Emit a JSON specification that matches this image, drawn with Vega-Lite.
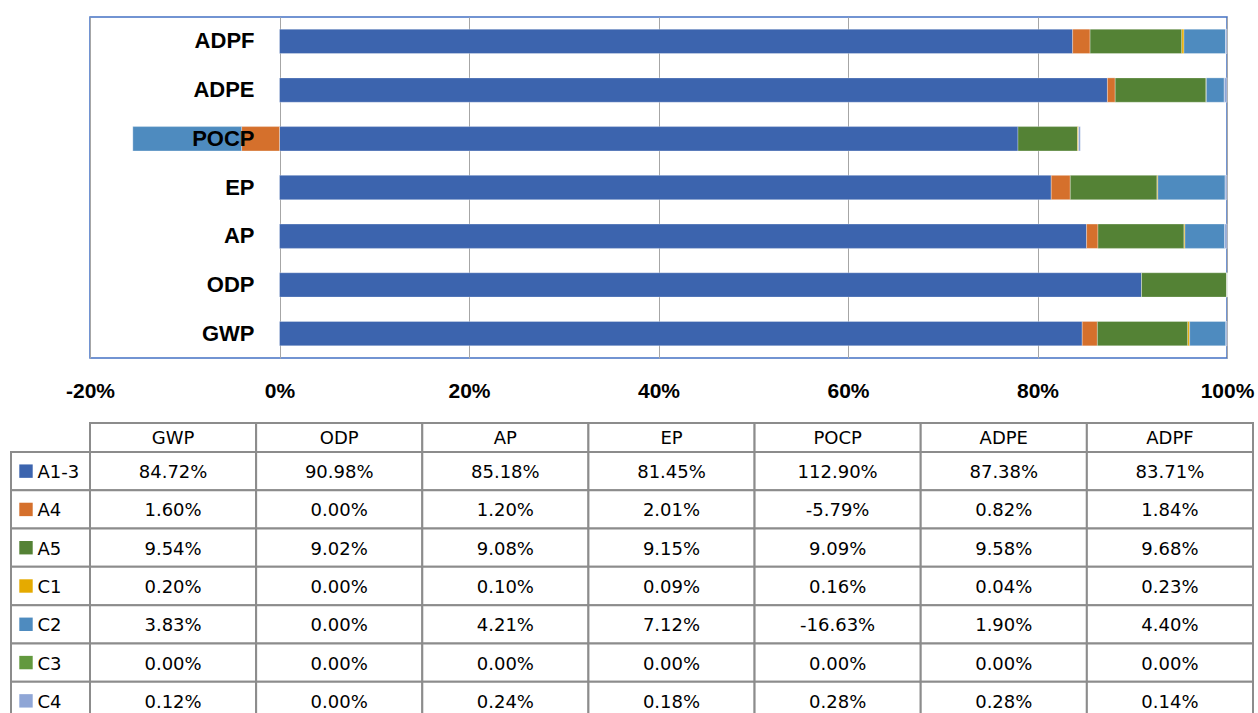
{
  "$schema": "https://vega.github.io/schema/vega-lite/v6.json",
  "padding": {"left": 10, "top": 16, "right": 0, "bottom": 0},
  "background": "white",
  "config": {
    "view": {"stroke": null},
    "locale": {"number": {"decimal": ".", "thousands": ",", "grouping": [3], "currency": ["$", ""], "minus": "-"}}
  },
  "datasets": {
    "d": [
      {"cat": "GWP", "series": "A1-3", "value": 0.8472, "plot": 0.8472},
      {"cat": "GWP", "series": "A4", "value": 0.0160, "plot": 0.0160},
      {"cat": "GWP", "series": "A5", "value": 0.0954, "plot": 0.0954},
      {"cat": "GWP", "series": "C1", "value": 0.0020, "plot": 0.0020},
      {"cat": "GWP", "series": "C2", "value": 0.0383, "plot": 0.0383},
      {"cat": "GWP", "series": "C3", "value": 0.0, "plot": 0.0},
      {"cat": "GWP", "series": "C4", "value": 0.0012, "plot": 0.0012},
      {"cat": "ODP", "series": "A1-3", "value": 0.9098, "plot": 0.9098},
      {"cat": "ODP", "series": "A4", "value": 0.0, "plot": 0.0},
      {"cat": "ODP", "series": "A5", "value": 0.0902, "plot": 0.0902},
      {"cat": "ODP", "series": "C1", "value": 0.0, "plot": 0.0},
      {"cat": "ODP", "series": "C2", "value": 0.0, "plot": 0.0},
      {"cat": "ODP", "series": "C3", "value": 0.0, "plot": 0.0},
      {"cat": "ODP", "series": "C4", "value": 0.0, "plot": 0.0},
      {"cat": "AP", "series": "A1-3", "value": 0.8518, "plot": 0.8518},
      {"cat": "AP", "series": "A4", "value": 0.0120, "plot": 0.0120},
      {"cat": "AP", "series": "A5", "value": 0.0908, "plot": 0.0908},
      {"cat": "AP", "series": "C1", "value": 0.0010, "plot": 0.0010},
      {"cat": "AP", "series": "C2", "value": 0.0421, "plot": 0.0421},
      {"cat": "AP", "series": "C3", "value": 0.0, "plot": 0.0},
      {"cat": "AP", "series": "C4", "value": 0.0024, "plot": 0.0024},
      {"cat": "EP", "series": "A1-3", "value": 0.8145, "plot": 0.8145},
      {"cat": "EP", "series": "A4", "value": 0.0201, "plot": 0.0201},
      {"cat": "EP", "series": "A5", "value": 0.0915, "plot": 0.0915},
      {"cat": "EP", "series": "C1", "value": 0.0009, "plot": 0.0009},
      {"cat": "EP", "series": "C2", "value": 0.0712, "plot": 0.0712},
      {"cat": "EP", "series": "C3", "value": 0.0, "plot": 0.0},
      {"cat": "EP", "series": "C4", "value": 0.0018, "plot": 0.0018},
      {"cat": "POCP", "series": "A1-3", "value": 1.1290, "plot": 0.7794},
      {"cat": "POCP", "series": "A4", "value": -0.0579, "plot": -0.0400},
      {"cat": "POCP", "series": "A5", "value": 0.0909, "plot": 0.0628},
      {"cat": "POCP", "series": "C1", "value": 0.0016, "plot": 0.0011},
      {"cat": "POCP", "series": "C2", "value": -0.1663, "plot": -0.1148},
      {"cat": "POCP", "series": "C3", "value": 0.0, "plot": 0.0},
      {"cat": "POCP", "series": "C4", "value": 0.0028, "plot": 0.0019},
      {"cat": "ADPE", "series": "A1-3", "value": 0.8738, "plot": 0.8738},
      {"cat": "ADPE", "series": "A4", "value": 0.0082, "plot": 0.0082},
      {"cat": "ADPE", "series": "A5", "value": 0.0958, "plot": 0.0958},
      {"cat": "ADPE", "series": "C1", "value": 0.0004, "plot": 0.0004},
      {"cat": "ADPE", "series": "C2", "value": 0.0190, "plot": 0.0190},
      {"cat": "ADPE", "series": "C3", "value": 0.0, "plot": 0.0},
      {"cat": "ADPE", "series": "C4", "value": 0.0028, "plot": 0.0028},
      {"cat": "ADPF", "series": "A1-3", "value": 0.8371, "plot": 0.8371},
      {"cat": "ADPF", "series": "A4", "value": 0.0184, "plot": 0.0184},
      {"cat": "ADPF", "series": "A5", "value": 0.0968, "plot": 0.0968},
      {"cat": "ADPF", "series": "C1", "value": 0.0023, "plot": 0.0023},
      {"cat": "ADPF", "series": "C2", "value": 0.0440, "plot": 0.0440},
      {"cat": "ADPF", "series": "C3", "value": 0.0, "plot": 0.0},
      {"cat": "ADPF", "series": "C4", "value": 0.0014, "plot": 0.0014}
    ]
  },
  "columns": 2,
  "spacing": 0,
  "bounds": "flush",
  "resolve": {"scale": {"x": "independent", "y": "independent", "color": "independent"}},
  "concat": [
    {
      "width": 79, "height": 406,
      "data": {"values": [{}]},
      "mark": {"type": "text", "text": ""},
      "encoding": {}
    },
    {
      "width": 1137, "height": 341,
      "view": {"stroke": "#4472C4", "strokeWidth": 1.5},
      "data": {"name": "d"},
      "layer": [
        {
          "mark": {"type": "bar", "stroke": "white", "strokeWidth": 0.6, "strokeOpacity": 0.5},
          "encoding": {
            "y": {"field": "cat", "type": "nominal", "sort": ["ADPF", "ADPE", "POCP", "EP", "AP", "ODP", "GWP"], "axis": null, "scale": {"paddingInner": 0.5, "paddingOuter": 0.25}},
            "x": {"field": "plot", "type": "quantitative", "stack": "zero",
              "scale": {"domain": [-0.2, 1], "nice": false, "zero": false},
              "axis": {"values": [-0.2, 0, 0.2, 0.4, 0.6, 0.8, 1], "format": ".0%", "title": null, "domain": false, "ticks": false, "tickSize": 0, "grid": true, "gridColor": "#A6A6A6", "gridWidth": 1, "labelFont": "Liberation Sans", "labelFontWeight": "bold", "labelFontSize": 21, "labelColor": "#000000", "labelPadding": 39, "labelBaseline": "alphabetic", "labelFlush": false, "labelOverlap": false}},
            "color": {"field": "series", "type": "nominal",
              "scale": {"domain": ["A1-3", "A4", "A5", "C1", "C2", "C3", "C4"], "range": ["#3C64AE", "#D5702C", "#548235", "#E5AA00", "#4E8BBF", "#62993E", "#8FA6D6"]},
              "legend": null}
          }
        },
        {
          "transform": [{"filter": "datum.series === 'A1-3'"}],
          "mark": {"type": "text", "align": "right", "baseline": "middle", "dx": -25, "font": "Liberation Sans", "fontWeight": "bold", "fontSize": 22, "color": "#000000"},
          "encoding": {
            "y": {"field": "cat", "type": "nominal", "sort": ["ADPF", "ADPE", "POCP", "EP", "AP", "ODP", "GWP"]},
            "x": {"datum": 0, "type": "quantitative"},
            "text": {"field": "cat"}
          }
        }
      ]
    },
    {
      "width": 79, "height": 29,
      "data": {"values": [{}]},
      "mark": {"type": "text", "text": ""},
      "encoding": {}
    },
    {
      "width": 1163, "height": 29,
      "data": {"name": "d"},
      "transform": [{"filter": "datum.series === 'A1-3'"}],
      "encoding": {
        "x": {"field": "cat", "type": "nominal", "sort": ["GWP", "ODP", "AP", "EP", "POCP", "ADPE", "ADPF"], "axis": null, "scale": {"paddingInner": 0, "paddingOuter": 0}},
        "y": {"datum": "h", "type": "nominal", "axis": null, "scale": {"paddingInner": 0, "paddingOuter": 0}}
      },
      "layer": [
        {"mark": {"type": "rect", "fill": "white", "stroke": "#8C8C8C", "strokeWidth": 2}},
        {"mark": {"type": "text", "font": "DejaVu Sans", "fontSize": 18, "color": "#000000", "baseline": "middle", "dy": 1}, "encoding": {"text": {"field": "cat"}}}
      ]
    },
    {
      "width": 79, "height": 268,
      "data": {"name": "d"},
      "transform": [{"filter": "datum.cat === 'GWP'"}],
      "encoding": {
        "y": {"field": "series", "type": "nominal", "sort": ["A1-3", "A4", "A5", "C1", "C2", "C3", "C4"], "axis": null, "scale": {"paddingInner": 0, "paddingOuter": 0}},
        "x": {"datum": "k", "type": "nominal", "axis": null, "scale": {"paddingInner": 0, "paddingOuter": 0}}
      },
      "layer": [
        {"mark": {"type": "rect", "fill": "white", "stroke": "#8C8C8C", "strokeWidth": 2}},
        {"mark": {"type": "square", "size": 180, "filled": true, "opacity": 1, "xOffset": -24.5},
          "encoding": {"color": {"field": "series", "type": "nominal",
            "scale": {"domain": ["A1-3", "A4", "A5", "C1", "C2", "C3", "C4"], "range": ["#3C64AE", "#D5702C", "#548235", "#E5AA00", "#4E8BBF", "#62993E", "#8FA6D6"]},
            "legend": null}}},
        {"mark": {"type": "text", "align": "left", "baseline": "middle", "dx": -13, "dy": 2, "font": "DejaVu Sans", "fontSize": 18, "color": "#000000"}, "encoding": {"text": {"field": "series"}}}
      ]
    },
    {
      "width": 1163, "height": 268,
      "data": {"name": "d"},
      "encoding": {
        "x": {"field": "cat", "type": "nominal", "sort": ["GWP", "ODP", "AP", "EP", "POCP", "ADPE", "ADPF"], "axis": null, "scale": {"paddingInner": 0, "paddingOuter": 0}},
        "y": {"field": "series", "type": "nominal", "sort": ["A1-3", "A4", "A5", "C1", "C2", "C3", "C4"], "axis": null, "scale": {"paddingInner": 0, "paddingOuter": 0}}
      },
      "layer": [
        {"mark": {"type": "rect", "fill": "white", "stroke": "#8C8C8C", "strokeWidth": 2}},
        {"mark": {"type": "text", "font": "DejaVu Sans", "fontSize": 18, "color": "#000000", "baseline": "middle", "dy": 2}, "encoding": {"text": {"field": "value", "format": ".2%"}}}
      ]
    }
  ]
}
